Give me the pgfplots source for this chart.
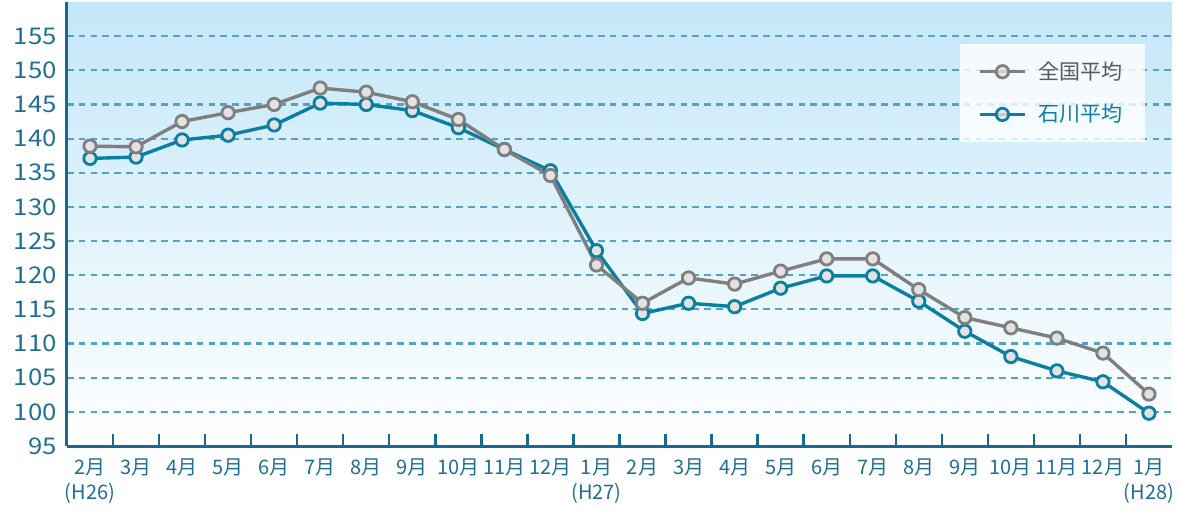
\documentclass[border=0pt]{standalone}
\usepackage{fontspec}
\setmainfont{Noto Sans CJK JP}
\newfontfamily\numfont[FakeStretch=1.12]{Noto Sans CJK JP}
\usepackage{pgfplots}
\usepackage{pgfplotstable}
\pgfplotsset{compat=1.18}
\definecolor{axblue}{HTML}{17698F}
\definecolor{txtblue}{HTML}{1F6E94}
\definecolor{gridblue}{HTML}{55A3C4}
\definecolor{teal1}{HTML}{0A7FA2}
\definecolor{gray1}{HTML}{7F7F7F}
\definecolor{mfill}{HTML}{E2E2E2}
\definecolor{bgtop}{HTML}{C3E7F8}
\definecolor{legtxt}{HTML}{595959}

\pgfplotstableread{
x zenkoku ishikawa
0  138.9 137.1
1  138.8 137.3
2  142.5 139.8
3  143.8 140.5
4  145.0 142.0
5  147.4 145.2
6  146.8 145.0
7  145.4 144.1
8  142.8 141.6
9  138.4 138.4
10 134.6 135.3
11 121.5 123.6
12 115.9 114.4
13 119.6 115.9
14 118.7 115.4
15 120.6 118.1
16 122.4 119.9
17 122.4 119.9
18 117.9 116.2
19 113.8 111.8
20 112.3 108.1
21 110.8 106.0
22 108.6 104.4
23 102.6 99.8
}\datatable

\begin{document}
\begin{tikzpicture}
\useasboundingbox (-33.5pt,-32pt) rectangle (556pt,223pt);
\begin{axis}[
  scale only axis, width=552.5pt, height=222pt,
  at={(0,0)}, anchor=south west,
  xmin=-0.5, xmax=23.5, ymin=95, ymax=160,
  axis lines=left,
  axis line style={-, draw=axblue, line width=1.5pt},
  axis background/.style={shade, top color=bgtop, bottom color=white},
  ytick={95,100,...,155},
  ymajorgrids,
  major grid style={draw=gridblue, line width=1.05pt, dash pattern=on 3.3pt off 2.6pt},
  xtick={0,...,23},
  xticklabels={{2月\\(H26)},3月,4月,5月,6月,7月,8月,9月,10月,11月,12月,{1月\\(H27)},2月,3月,4月,5月,6月,7月,8月,9月,10月,11月,12月,{1月\\(H28)}},
  major tick length=0pt,
  minor xtick={0.5,1.5,...,22.5},
  minor tick length=6pt,
  tick align=inside,
  minor tick style={draw=axblue, line width=1.2pt},
  /pgf/number format/assume math mode=true,
  yticklabel style={font=\numfont\fontsize{11.5}{12}\selectfont, text=txtblue, anchor=east, inner sep=0pt, xshift=-5pt},
  xticklabel style={font=\fontsize{10}{12.5}\selectfont, text=txtblue, align=center, anchor=north, inner sep=0pt, yshift=-6pt},
  reverse legend,
  legend style={at={(0.9756,0.9054)}, anchor=north east, fill=white, fill opacity=0.8, text opacity=1, draw=none,
    font=\fontsize{10.5}{12}\selectfont, row sep=7pt, inner xsep=9pt, inner ysep=6.5pt, cells={anchor=west}},
  legend image code/.code={\draw[#1,mark repeat=2,mark phase=2] plot coordinates {(0pt,0pt) (11.25pt,0pt) (22.5pt,0pt)};},
]
\addplot[teal1, line width=1.7pt, mark=*, mark size=3.1pt, mark options={fill=mfill, draw=teal1, line width=1.4pt}] table[x=x, y=ishikawa] {\datatable};
\addlegendentry{\hspace*{4pt}\textcolor{teal1}{石川平均}}
\addplot[gray1, line width=1.7pt, mark=*, mark size=3.1pt, mark options={fill=mfill, draw=gray1, line width=1.4pt}] table[x=x, y=zenkoku] {\datatable};
\addlegendentry{\hspace*{4pt}\textcolor{legtxt}{全国平均}}
\end{axis}
\end{tikzpicture}
\end{document}
